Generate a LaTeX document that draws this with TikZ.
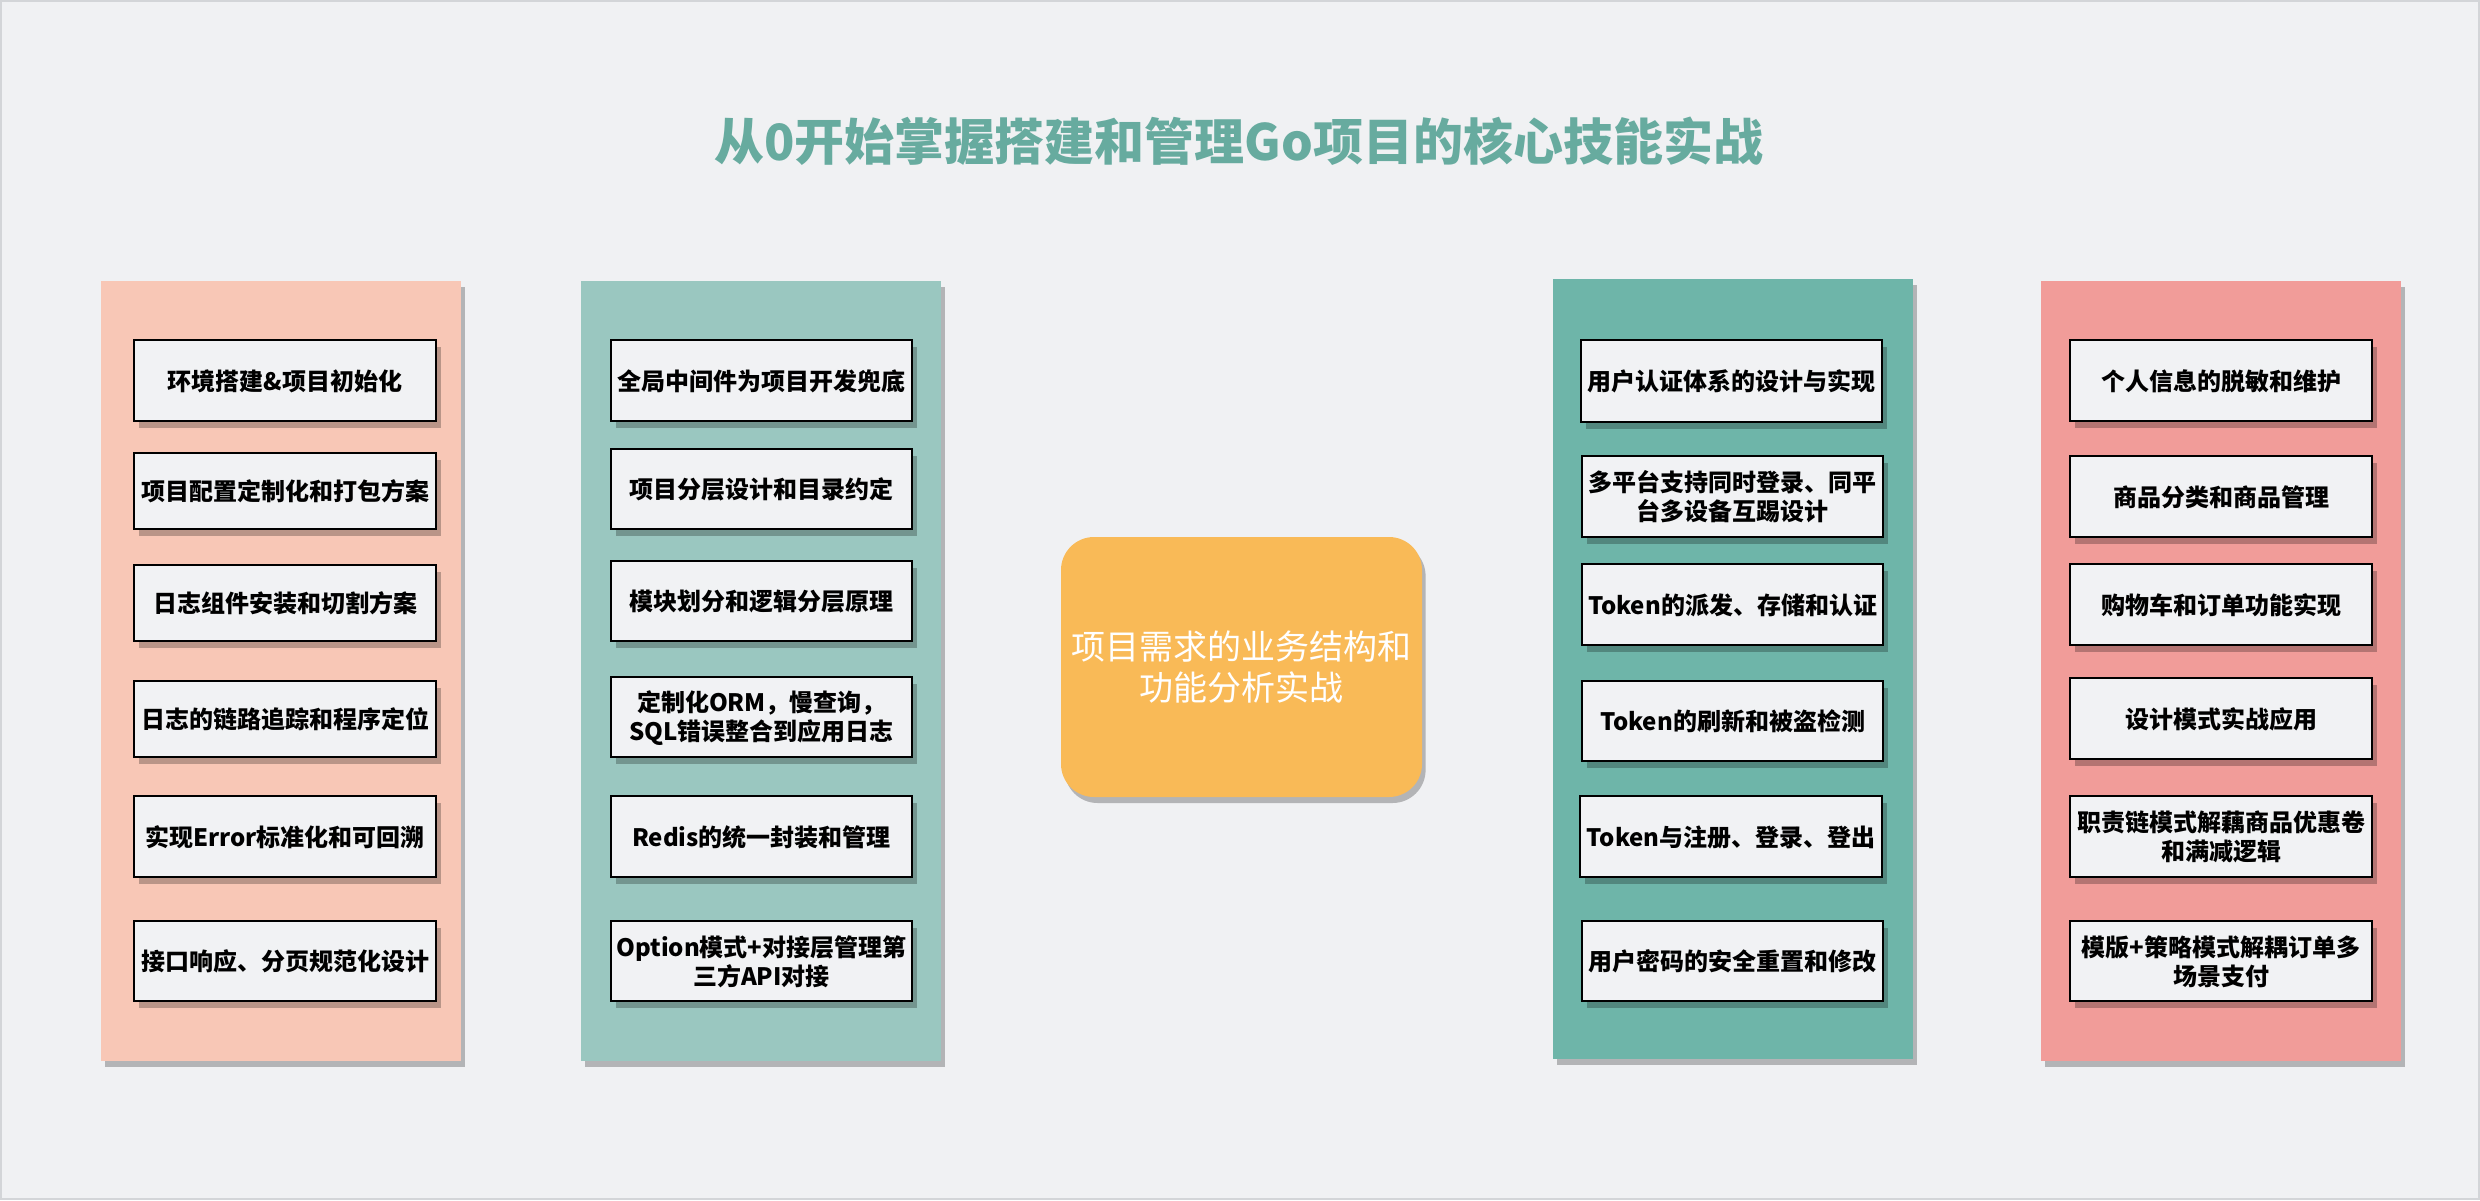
\documentclass[tikz,border=0pt]{standalone}
\usepackage{fontspec}
\setmainfont{Noto Sans CJK SC}
\usetikzlibrary{fit,shadows}
\definecolor{bgc}{HTML}{F0F1F3}
\definecolor{bgline}{HTML}{D3D5D8}
\definecolor{titlec}{HTML}{67AB9F}
\definecolor{colA}{HTML}{F8C7B6}
\definecolor{colB}{HTML}{9AC7C0}
\definecolor{colC}{HTML}{6EB5A9}
\definecolor{colD}{HTML}{F19C99}
\definecolor{ctrc}{HTML}{F9BA57}
\definecolor{boxfill}{HTML}{F1F2F4}
\tikzset{
  colbox/.style={fill=#1, draw=none, inner sep=0pt, outer sep=0pt,
    drop shadow={shadow xshift=2pt, shadow yshift=-3pt, fill=black, opacity=0.25}},
  itembox/.style={fill=boxfill, draw=black, line width=0.9pt, inner sep=0pt, outer sep=0pt,
    drop shadow={shadow xshift=2.4pt, shadow yshift=-3.4pt, fill=black, opacity=0.25}},
  itemtext/.style={align=center, text=black, inner sep=0pt,
    font=\fontsize{12pt}{14.5pt}\selectfont\bfseries},
  ctrbox/.style={fill=ctrc, draw=none, rounded corners=16.5pt, inner sep=0pt, outer sep=0pt,
    drop shadow={shadow xshift=1.8pt, shadow yshift=-3pt, fill=black, opacity=0.25}},
  ctrtext/.style={align=center, text=white, inner sep=0pt,
    font=\fontsize{17pt}{20.5pt}\selectfont},
  titletext/.style={text=titlec, font=\fontsize{25pt}{30pt}\selectfont\bfseries, inner sep=0pt}
}
\newcommand\itembx[3]{%
  \node[itembox, fit={#2}] (#1) {};
  \node[itemtext] (#1t) at ([yshift=-0.3pt]#1.center) {#3};}
\begin{document}
\begin{tikzpicture}[x=0.5pt,y=-0.5pt]
\useasboundingbox (0,0) rectangle (2480,1200);
\fill[bgc] (0,0) rectangle (2480,1200);
\draw[bgline, line width=0.8pt] (0.8,0.8) rectangle (2479.2,1199.2);

\node[titletext] (title) at (1239,141) {从0开始掌握搭建和管理Go项目的核心技能实战};

% columns
\node[colbox=colA, fit={(101,281)(461,1061)}] (col1) {};
\node[colbox=colB, fit={(581,281)(941,1061)}] (col2) {};
\node[colbox=colC, fit={(1553,279)(1913,1059)}] (col3) {};
\node[colbox=colD, fit={(2041,281)(2401,1061)}] (col4) {};

% column 1
\itembx{a1}{(134,340)(436,421)}{环境搭建\&项目初始化}
\itembx{a2}{(134,453)(436,529)}{项目配置定制化和打包方案}
\itembx{a3}{(134,565)(436,641)}{日志组件安装和切割方案}
\itembx{a4}{(134,681)(436,757)}{日志的链路追踪和程序定位}
\itembx{a5}{(134,796)(436,877)}{实现Error标准化和可回溯}
\itembx{a6}{(134,921)(436,1001)}{接口响应、分页规范化设计}

% column 2
\itembx{b1}{(611,340)(912,421)}{全局中间件为项目开发兜底}
\itembx{b2}{(611,449)(912,529)}{项目分层设计和目录约定}
\itembx{b3}{(611,561)(912,641)}{模块划分和逻辑分层原理}
\itembx{b4}{(611,677)(912,757)}{定制化ORM，慢查询，\\SQL错误整合到应用日志}
\itembx{b5}{(611,796)(912,877)}{Redis的统一封装和管理}
\itembx{b6}{(611,921)(912,1001)}{Option模式+对接层管理第\\三方API对接}

% center
\node[ctrbox, fit={(1061,537)(1422,797)}] (ctr) {};
\node[ctrtext] (ctrt) at (ctr.center) {项目需求的业务结构和\\功能分析实战};

% column 3
\itembx{c1}{(1581,340)(1882,422)}{用户认证体系的设计与实现}
\itembx{c2}{(1582,456)(1883,537)}{多平台支持同时登录、同平\\台多设备互踢设计}
\itembx{c3}{(1582,564)(1883,645)}{Token的派发、存储和认证}
\itembx{c4}{(1582,681)(1883,761)}{Token的刷新和被盗检测}
\itembx{c5}{(1580,796)(1882,877)}{Token与注册、登录、登出}
\itembx{c6}{(1582,921)(1883,1001)}{用户密码的安全重置和修改}

% column 4
\itembx{d1}{(2070,340)(2372,421)}{个人信息的脱敏和维护}
\itembx{d2}{(2070,456)(2372,537)}{商品分类和商品管理}
\itembx{d3}{(2070,564)(2372,645)}{购物车和订单功能实现}
\itembx{d4}{(2070,678)(2372,759)}{设计模式实战应用}
\itembx{d5}{(2070,796)(2372,877)}{职责链模式解藕商品优惠卷\\和满减逻辑}
\itembx{d6}{(2070,921)(2372,1001)}{模版+策略模式解耦订单多\\场景支付}
\end{tikzpicture}
\end{document}
